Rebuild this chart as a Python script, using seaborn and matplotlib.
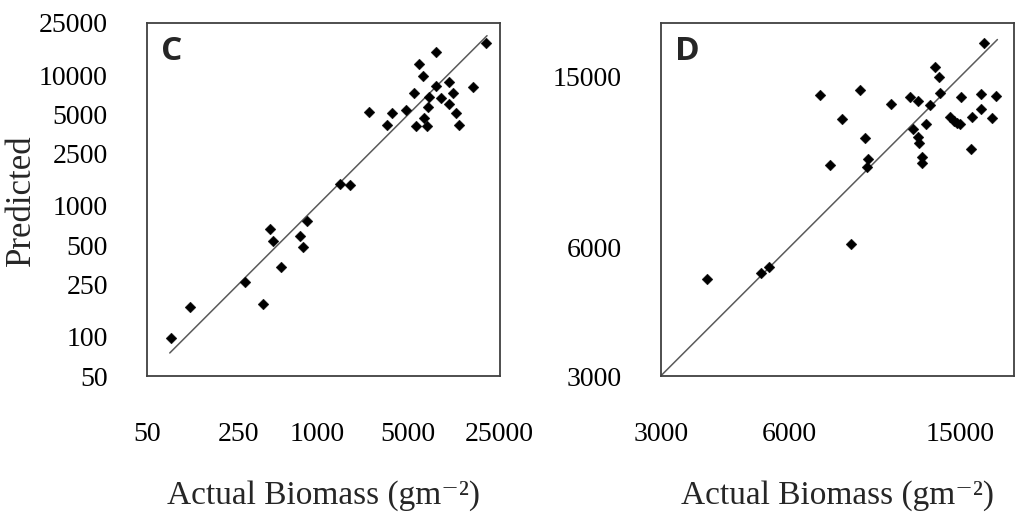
import matplotlib
matplotlib.use("Agg")
import matplotlib.pyplot as plt
import matplotlib.ticker as mtick
import seaborn as sns
import pandas as pd

# Panel C: actual vs predicted biomass (log-log)
c_actual = [19540, 8150, 6080, 6460, 10290, 8150, 15630, 5570, 10910, 7250, 8900,
            10290, 7080, 2510, 3780, 4820, 11510, 6610, 3440, 5710, 6930, 12250,
            1490, 1790, 840, 439, 458, 743, 787, 530, 282, 387, 107, 76]
c_pred = [17460, 15070, 12080, 9890, 8900, 8280, 8150, 7330, 7330, 6820, 6640,
          6040, 5700, 5250, 5100, 5380, 5100, 4700, 4150, 4080, 4080, 4150,
          1470, 1440, 764, 668, 541, 590, 486, 340, 263, 177, 169, 98]

# Panel D
d_actual = [17000, 13120, 13400, 13430, 7060, 8730, 10350, 11470, 11920, 12710,
            15020, 16790, 18170, 16790, 17780, 16000, 14170, 14530, 14760, 14980,
            7930, 12460, 11600, 11920, 12000, 8970, 15910, 12220, 12220, 9150,
            9080, 7430, 3850, 5150, 5380, 8350]
d_pred = [17920, 15830, 15000, 13750, 13550, 13920, 12930, 13460, 13140, 12860,
          13460, 13640, 13480, 12620, 12000, 12090, 12060, 11800, 11690, 11610,
          11920, 11610, 11340, 10840, 10470, 10770, 10150, 9720, 9450, 9650,
          9220, 9330, 5060, 5230, 5390, 6100]

# 1:1 reference lines
one_to_one_c = [75, 20000]
one_to_one_d = [3000, 18300]

# Axis limits and ticks
c_lim = [50, 25000]
c_xticks = [50, 100, 250, 500, 1000, 2500, 5000, 10000, 25000]
c_xlabels = ["50", "", "250", "", "1000", "", "5000", "", "25000"]
c_yticks = [50, 100, 250, 500, 1000, 2500, 5000, 10000, 25000]
c_ylabels = ["50", "100", "250", "500", "1000", "2500", "5000", "10000", "25000"]

d_lim = [3000, 20000]
d_ticks = [3000, 6000, 15000]
d_labels = ["3000", "6000", "15000"]

sns.set_style("white")
plt.rcParams["font.family"] = ["Liberation Serif", "DejaVu Serif"]

fig = plt.figure(figsize=(10.24, 5.25), dpi=100)
ax_c = fig.add_axes([0.1433, 0.2838, 0.3447, 0.6724])
ax_d = fig.add_axes([0.6452, 0.2838, 0.345, 0.6724])


def draw_panel(ax, actual, pred, line, lim, xticks, xlabels, yticks, ylabels, letter):
    df = pd.DataFrame({"actual": actual, "pred": pred})
    ref = pd.DataFrame({"x": line, "y": line})

    # 1:1 line, then the points on top
    sns.lineplot(data=ref, x="x", y="y", ax=ax, color="#5a5a5a", linewidth=1.1)
    sns.scatterplot(data=df, x="actual", y="pred", ax=ax, marker="D",
                    color="black", s=30, edgecolor="black", linewidth=0.3, zorder=3)

    ax.set_xscale("log")
    ax.set_yscale("log")
    ax.set_xlim(lim)
    ax.set_ylim(lim)

    ax.xaxis.set_major_locator(mtick.FixedLocator(xticks))
    ax.xaxis.set_major_formatter(mtick.FixedFormatter(xlabels))
    ax.yaxis.set_major_locator(mtick.FixedLocator(yticks))
    ax.yaxis.set_major_formatter(mtick.FixedFormatter(ylabels))
    ax.xaxis.set_minor_locator(mtick.NullLocator())
    ax.yaxis.set_minor_locator(mtick.NullLocator())

    ax.tick_params(axis="both", direction="in", length=7, width=1.2,
                   color="#404040", labelsize=20, labelcolor="black")
    ax.tick_params(axis="y", pad=28)
    ax.tick_params(axis="x", pad=33)

    for sp in ax.spines.values():
        sp.set_color("#404040")
        sp.set_linewidth(1.3)

    ax.set_xlabel("Actual Biomass (gm\u207b\u00b2)", fontsize=24, labelpad=24)
    ax.set_ylabel("")

    ax.text(0.04, 0.965, letter, transform=ax.transAxes, ha="left", va="top",
            fontsize=24, fontweight="bold", family=["Open Sans", "DejaVu Sans"])


draw_panel(ax_c, c_actual, c_pred, one_to_one_c, c_lim,
           c_xticks, c_xlabels, c_yticks, c_ylabels, "C")
draw_panel(ax_d, d_actual, d_pred, one_to_one_d, d_lim,
           d_ticks, d_labels, d_ticks, d_labels, "D")

fig.text(0.021, 0.619, "Predicted", rotation=90, ha="center", va="center", fontsize=25)

fig.savefig("out.png", dpi=100)
